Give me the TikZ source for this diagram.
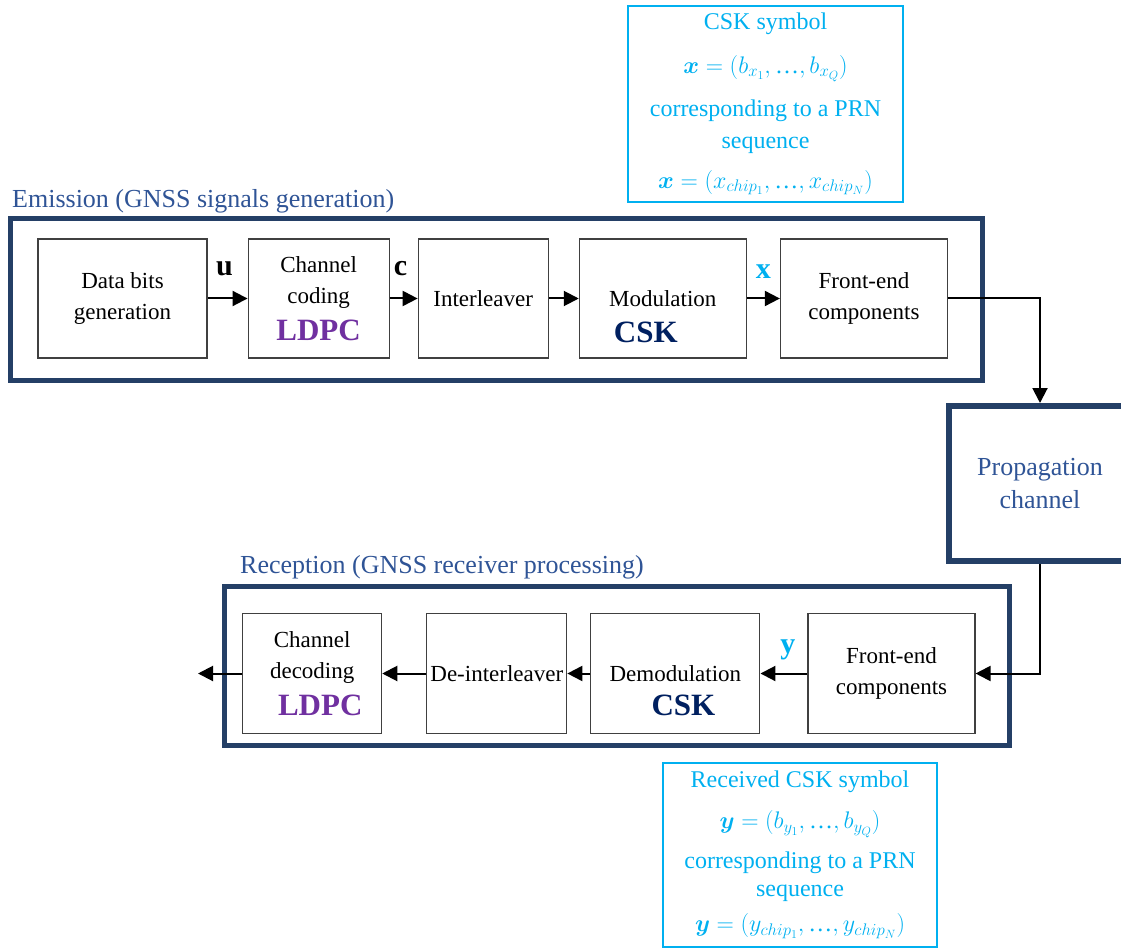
\documentclass[tikz,border=0pt]{standalone}
\usepackage{fix-cm}
\usepackage{amsmath}
\usepackage{fontspec}
\setmainfont{Liberation Serif}
\newfontfamily\tnrfont{Liberation Serif}
\usetikzlibrary{positioning,arrows.meta,calc}
\definecolor{frmblue}{HTML}{243F66}
\definecolor{lblblue}{HTML}{2F5496}
\definecolor{symcyan}{HTML}{00B0F0}
\definecolor{ldpcpurple}{HTML}{7030A0}
\definecolor{cskblue}{HTML}{002060}

\begin{document}
\begin{tikzpicture}[x=1pt,y=-1pt,font=\tnrfont\fontsize{23}{31}\selectfont,>={Triangle[length=15pt,width=15pt]},
  blk/.style={rectangle,draw=black!75,line width=1.1pt,fill=white,align=center,minimum height=119pt,inner sep=2pt},
  frm/.style={rectangle,draw=frmblue,line width=5pt},
  ttl/.style={text=lblblue,font=\tnrfont\fontsize{26}{30}\selectfont,anchor=base west,inner sep=0pt},
  sym/.style={rectangle,draw=symcyan,line width=1.3pt,text=symcyan,align=center,inner sep=0pt},
  csk/.style={text=cskblue,font=\tnrfont\fontsize{31}{34}\selectfont\bfseries,inner sep=0pt},
  sig/.style={font=\tnrfont\fontsize{30}{32}\selectfont\bfseries,inner sep=0pt},
  ar/.style={->,line width=2pt}]
\useasboundingbox (0,0) rectangle (1121,949);
% frames
\node[frm,minimum width=972pt,minimum height=162pt](emis) at (496.5,299.5){};
\node[frm,minimum width=785pt,minimum height=159pt](recp) at (617,666){};
\node[ttl](temis) at (12,208){Emission (GNSS signals generation)};
\node[ttl](trecp) at (240,573){Reception (GNSS receiver processing)};
% emission chain
\node[blk,minimum width=169pt](data) at (122.5,298.5){Data bits\\generation};
\node[blk,minimum width=141pt,right=40pt of data](chc){Channel\\coding\\[6pt]\textcolor{ldpcpurple}{\fontsize{31}{34}\selectfont\bfseries LDPC}};
\node[blk,minimum width=130pt,right=28pt of chc](intl){Interleaver};
\node[blk,minimum width=167pt,right=30pt of intl](mod){Modulation};
\node[blk,minimum width=167pt,right=33pt of mod](fe1){Front-end\\components};
\node[csk](cskm) at ($(mod.center)+(-17,34)$){CSK};
% channel
\node[frm,line width=6pt,minimum width=182pt,minimum height=155pt,text=lblblue,align=center,font=\tnrfont\fontsize{26}{33}\selectfont](prop) at (1040,483.5){Propagation\\channel};
% reception chain
\node[blk,minimum width=167pt,minimum height=120pt](fe2) at (891.5,673.5){Front-end\\components};
\node[blk,minimum width=169pt,minimum height=120pt,left=47pt of fe2](dem){Demodulation};
\node[blk,minimum width=140pt,minimum height=120pt,left=23pt of dem](dei){De-interleaver};
\node[blk,minimum width=139pt,minimum height=120pt,left=44pt of dei](chd){Channel\\decoding\\[6pt]\hspace*{16pt}\textcolor{ldpcpurple}{\fontsize{31}{34}\selectfont\bfseries LDPC}};
\node[csk](cskd) at ($(dem.center)+(8,32)$){CSK};
\coordinate(out) at (198,673.5);
% signal labels
\node[sig](lu) at ($(data.east)!.5!(chc.west)+(-3,-30)$){u};
\node[sig](lc) at ($(chc.east)!.5!(intl.west)+(-3,-30)$){c};
\node[sig,text=symcyan](lx) at ($(mod.east)!.5!(fe1.west)+(0,-27)$){x};
\node[sig,text=symcyan](ly) at ($(dem.east)!.5!(fe2.west)+(4,-24)$){y};
% symbol boxes
\node[sym,minimum width=275pt,minimum height=196pt,font=\tnrfont\fontsize{24}{32}\selectfont](symx) at (765.5,104){CSK symbol\\[12pt]$\boldsymbol{x}=(b_{x_1},\text{…},b_{x_Q})$\\[11pt]corresponding to a PRN\\sequence\\[8pt]$\boldsymbol{x}=(x_{chip_1},\text{…},x_{chip_N})$};
\node[sym,minimum width=274pt,minimum height=184pt,font=\tnrfont\fontsize{24}{28}\selectfont](symy) at (800,855){Received CSK symbol\\[13pt]$\boldsymbol{y}=(b_{y_1},\text{…},b_{y_Q})$\\[12pt]corresponding to a PRN\\sequence\\[7pt]$\boldsymbol{y}=(y_{chip_1},\text{…},y_{chip_N})$};
% connectors
\draw[ar](data)--(chc);\draw[ar](chc)--(intl);\draw[ar](intl)--(mod);\draw[ar](mod)--(fe1);
\draw[ar](fe1.east)-|(prop.north);\draw[ar](prop.south)|-(fe2.east);
\draw[ar](fe2)--(dem);\draw[ar](dem)--(dei);\draw[ar](dei)--(chd);\draw[ar](chd)--(out);
\end{tikzpicture}
\end{document}
